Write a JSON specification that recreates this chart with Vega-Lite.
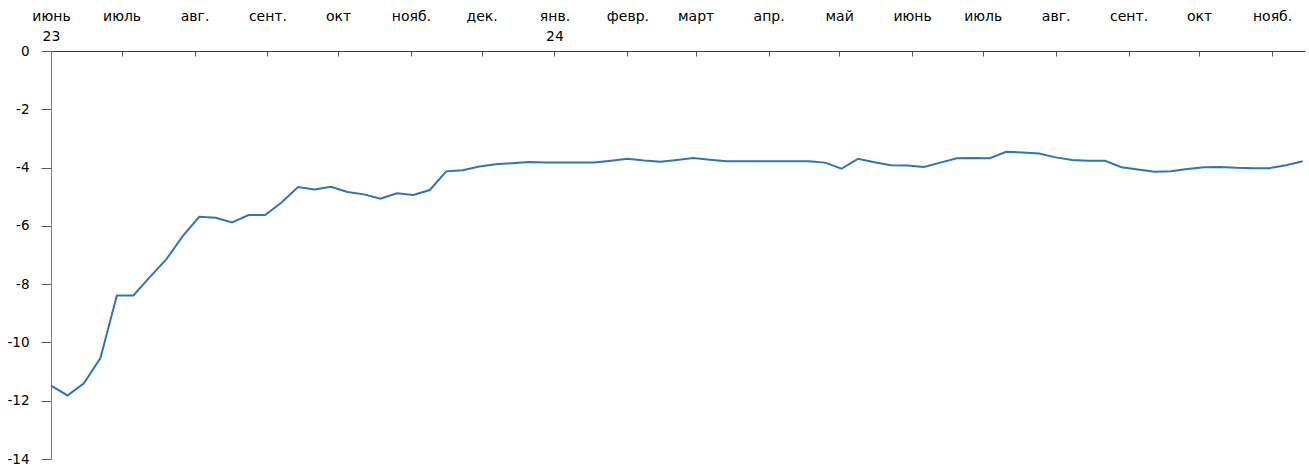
{
  "$schema": "https://vega.github.io/schema/vega-lite/v6.json",
  "width": 1254,
  "height": 408,
  "autosize": {"type": "none"},
  "padding": {"left": 51, "top": 51, "right": 4, "bottom": 10},
  "background": "white",
  "config": {"view": {"stroke": null}, "font": "DejaVu Sans"},
  "data": {"values": [
    {"date": "2023-06-01", "value": -11.48},
    {"date": "2023-06-08", "value": -11.82},
    {"date": "2023-06-15", "value": -11.40},
    {"date": "2023-06-22", "value": -10.54},
    {"date": "2023-06-29", "value": -8.39},
    {"date": "2023-07-06", "value": -8.39},
    {"date": "2023-07-13", "value": -7.76},
    {"date": "2023-07-20", "value": -7.15},
    {"date": "2023-07-27", "value": -6.35},
    {"date": "2023-08-03", "value": -5.69},
    {"date": "2023-08-10", "value": -5.72},
    {"date": "2023-08-17", "value": -5.88},
    {"date": "2023-08-24", "value": -5.63},
    {"date": "2023-08-31", "value": -5.63},
    {"date": "2023-09-07", "value": -5.20},
    {"date": "2023-09-14", "value": -4.67},
    {"date": "2023-09-21", "value": -4.75},
    {"date": "2023-09-28", "value": -4.66},
    {"date": "2023-10-05", "value": -4.84},
    {"date": "2023-10-12", "value": -4.92},
    {"date": "2023-10-19", "value": -5.07},
    {"date": "2023-10-26", "value": -4.88},
    {"date": "2023-11-02", "value": -4.94},
    {"date": "2023-11-09", "value": -4.77},
    {"date": "2023-11-16", "value": -4.13},
    {"date": "2023-11-23", "value": -4.09},
    {"date": "2023-11-30", "value": -3.96},
    {"date": "2023-12-07", "value": -3.89},
    {"date": "2023-12-14", "value": -3.85},
    {"date": "2023-12-21", "value": -3.81},
    {"date": "2023-12-28", "value": -3.83},
    {"date": "2024-01-04", "value": -3.83},
    {"date": "2024-01-11", "value": -3.83},
    {"date": "2024-01-18", "value": -3.83},
    {"date": "2024-01-25", "value": -3.77},
    {"date": "2024-02-01", "value": -3.70},
    {"date": "2024-02-08", "value": -3.76},
    {"date": "2024-02-15", "value": -3.80},
    {"date": "2024-02-22", "value": -3.74},
    {"date": "2024-02-29", "value": -3.67},
    {"date": "2024-03-07", "value": -3.73},
    {"date": "2024-03-14", "value": -3.78},
    {"date": "2024-03-21", "value": -3.78},
    {"date": "2024-03-28", "value": -3.78},
    {"date": "2024-04-04", "value": -3.78},
    {"date": "2024-04-11", "value": -3.78},
    {"date": "2024-04-18", "value": -3.78},
    {"date": "2024-04-25", "value": -3.83},
    {"date": "2024-05-02", "value": -4.04},
    {"date": "2024-05-09", "value": -3.70},
    {"date": "2024-05-16", "value": -3.82},
    {"date": "2024-05-23", "value": -3.92},
    {"date": "2024-05-30", "value": -3.93},
    {"date": "2024-06-06", "value": -3.98},
    {"date": "2024-06-13", "value": -3.83},
    {"date": "2024-06-20", "value": -3.68},
    {"date": "2024-06-27", "value": -3.67},
    {"date": "2024-07-04", "value": -3.68},
    {"date": "2024-07-11", "value": -3.46},
    {"date": "2024-07-18", "value": -3.48},
    {"date": "2024-07-25", "value": -3.52},
    {"date": "2024-08-01", "value": -3.65},
    {"date": "2024-08-08", "value": -3.74},
    {"date": "2024-08-15", "value": -3.77},
    {"date": "2024-08-22", "value": -3.77},
    {"date": "2024-08-29", "value": -3.99},
    {"date": "2024-09-05", "value": -4.07},
    {"date": "2024-09-12", "value": -4.14},
    {"date": "2024-09-19", "value": -4.13},
    {"date": "2024-09-26", "value": -4.05},
    {"date": "2024-10-03", "value": -3.99},
    {"date": "2024-10-10", "value": -3.98},
    {"date": "2024-10-17", "value": -4.01},
    {"date": "2024-10-24", "value": -4.02},
    {"date": "2024-10-31", "value": -4.02},
    {"date": "2024-11-07", "value": -3.92},
    {"date": "2024-11-14", "value": -3.78}
  ]},
  "mark": {"type": "line", "color": "#2e75b6", "strokeWidth": 2},
  "encoding": {
    "x": {
      "field": "date",
      "type": "temporal",
      "scale": {
        "type": "utc",
        "domain": [
          {"year": 2023, "month": 6, "date": 1, "utc": true},
          {"year": 2024, "month": 11, "date": 15, "utc": true}
        ],
        "nice": false
      },
      "axis": {
        "orient": "top",
        "title": null,
        "grid": false,
        "tickCount": {"interval": "month", "step": 1},
        "tickSize": -5,
        "tickColor": "#595959",
        "domainColor": "#404040",
        "labelPadding": 36,
        "labelBaseline": "alphabetic",
        "labelLineHeight": 20,
        "labelFontSize": 14,
        "labelColor": "black",
        "labelFlush": false,
        "labelBound": false,
        "labelOverlap": false,
        "labelExpr": "[['янв.','февр.','март','апр.','май','июнь','июль','авг.','сент.','окт','нояб.','дек.'][utcmonth(datum.value)], (utcmonth(datum.value) == 0 || (utcyear(datum.value) == 2023 && utcmonth(datum.value) == 5)) ? utcFormat(datum.value, '%y') : '']"
      }
    },
    "y": {
      "field": "value",
      "type": "quantitative",
      "scale": {"domain": [-14, 0], "nice": false, "zero": false},
      "axis": {
        "title": null,
        "grid": false,
        "values": [-14, -12, -10, -8, -6, -4, -2, 0],
        "tickSize": 10,
        "tickColor": "#595959",
        "domainColor": "#7f7f7f",
        "labelPadding": 12,
        "labelFontSize": 13.5,
        "labelColor": "black",
        "labelFlush": false,
        "labelBound": false,
        "labelExpr": "datum.value + ''"
      }
    }
  }
}
